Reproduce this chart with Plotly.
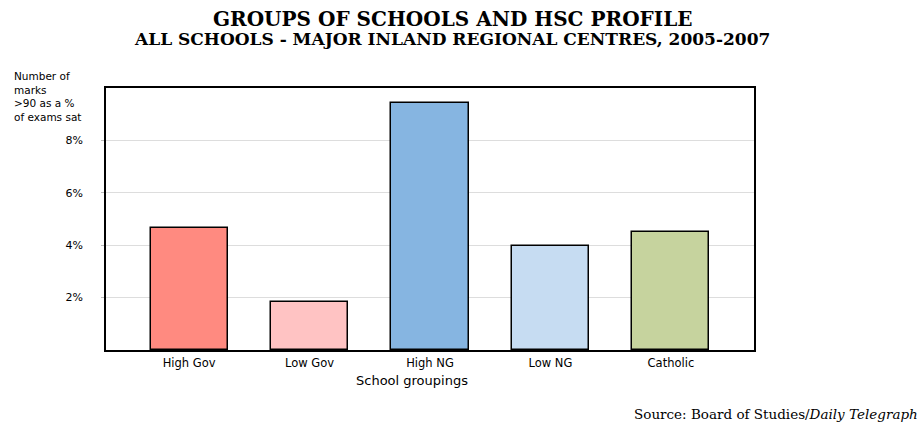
import plotly.graph_objects as go

categories = ["High Gov", "Low Gov", "High NG", "Low NG", "Catholic"]
values = [4.65, 1.82, 9.43, 3.98, 4.49]
colors = ["#FF8A80", "#FFC3C3", "#86B5E1", "#C6DCF2", "#C6D39E"]
y_ticks = [2, 4, 6, 8]
y_tick_labels = ["2%", "4%", "6%", "8%"]

fig = go.Figure()
fig.add_trace(go.Bar(
    x=categories, y=values,
    marker=dict(color=colors, line=dict(color="black", width=1.5)),
    width=0.64,
))

W, H = 921, 423
L, R, T, B = 106, 754, 88, 350
SANS = "DejaVu Sans, Arial, sans-serif"
SERIF = "DejaVu Serif, Times New Roman, serif"

fig.update_layout(
    width=W, height=H,
    margin=dict(l=L, r=W - R, t=T, b=H - B),
    paper_bgcolor="white", plot_bgcolor="white",
    showlegend=False,
    font=dict(family=SANS, size=10, color="black"),
    bargap=0,
    xaxis=dict(
        range=[-0.69, 4.69], showgrid=False, ticks="",
        showline=True, linecolor="black", linewidth=1.5, mirror=True,
        tickfont=dict(size=11.5), ticklabelstandoff=1,
    ),
    yaxis=dict(
        range=[0, 10], tickvals=y_ticks, ticktext=y_tick_labels,
        showgrid=True, gridcolor="#DDDDDD", gridwidth=1,
        ticks="outside", ticklen=3, tickcolor="#BBBBBB",
        showline=True, linecolor="black", linewidth=1.5, mirror=True,
        tickfont=dict(size=11), ticklabelstandoff=16, zeroline=False,
    ),
    annotations=[
        dict(text="<b>GROUPS OF SCHOOLS AND HSC PROFILE</b>", x=452, y=H - 19,
             xref="paper", yref="paper", showarrow=False, yanchor="middle",
             font=dict(family=SERIF, size=20)),
        dict(text="<b>ALL SCHOOLS - MAJOR INLAND REGIONAL CENTRES, 2005-2007</b>", x=452, y=H - 39,
             xref="paper", yref="paper", showarrow=False, yanchor="middle",
             font=dict(family=SERIF, size=17)),
        dict(text="Number of<br>marks<br>>90 as a %<br>of exams sat", x=12, y=H - 68,
             xref="paper", yref="paper", showarrow=False, xanchor="left", yanchor="top", align="left",
             font=dict(size=10.5)),
        dict(text="School groupings", x=412, y=H - 380,
             xref="paper", yref="paper", showarrow=False, yanchor="middle",
             font=dict(size=13)),
        dict(text="Source: Board of Studies/<i>Daily Telegraph</i>", x=920, y=H - 414,
             xref="paper", yref="paper", showarrow=False, xanchor="right", yanchor="middle",
             font=dict(family=SERIF, size=13.5)),
    ],
)

# convert pixel annotation coordinates to paper fractions
pw, ph = R - L, B - T
for a in fig.layout.annotations:
    a.x = (a.x - L) / pw
    a.y = (a.y - (H - B)) / ph

fig.write_html("out.html")
